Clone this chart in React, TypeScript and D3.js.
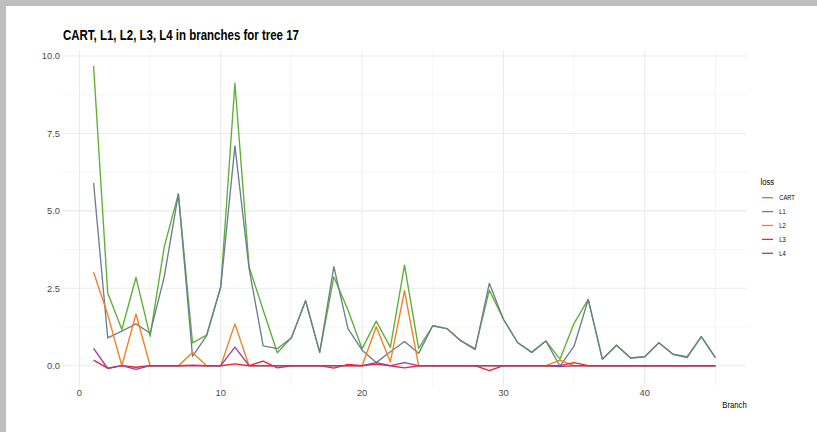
import React from "react";
import * as d3 from "d3";

const branches: number[] = d3.range(1, 46);

const cartValues: number[] = [
  9.68, 2.35, 1.17, 2.85, 0.95, 3.84, 5.55, 0.74, 0.99, 2.55,
  9.12, 3.2, 1.8, 0.42, 0.9, 2.1, 0.43, 2.87, 1.8, 0.55,
  1.44, 0.59, 3.25, 0.56, 1.29, 1.2, 0.8, 0.55, 2.44, 1.5,
  0.75, 0.43, 0.8, 0.21, 1.37, 2.14, 0.21, 0.67, 0.25, 0.29,
  0.74, 0.37, 0.29, 0.94, 0.26,
];
const l1Values: number[] = [
  5.9, 0.9, 1.12, 1.35, 1.05, 2.87, 5.55, 0.3, 0.97, 2.55,
  7.1, 3.15, 0.64, 0.55, 0.9, 2.1, 0.43, 3.2, 1.2, 0.5,
  0.1, 0.45, 0.78, 0.4, 1.29, 1.2, 0.8, 0.52, 2.66, 1.5,
  0.75, 0.43, 0.8, -0.01, 0.63, 2.14, 0.21, 0.65, 0.25, 0.29,
  0.74, 0.37, 0.26, 0.94, 0.26,
];
const l2Values: number[] = [
  3.02, 1.65, 0, 1.67, 0, 0, 0, 0.43, 0, 0,
  1.35, 0, 0, 0, 0, 0, 0, 0, 0, 0,
  1.26, 0.12, 2.42, 0, 0, 0, 0, 0, 0, 0,
  0, 0, 0, 0.18, 0, 0, 0, 0, 0, 0,
  0, 0, 0, 0, 0,
];
const l3Values: number[] = [
  0.18, -0.08, 0, -0.05, 0, 0, 0, 0, 0, 0,
  0.06, 0, 0.15, -0.07, 0, 0, 0, -0.08, 0.04, 0,
  0.05, 0, -0.07, 0, 0, 0, 0, 0, -0.16, 0,
  0, 0, 0, 0, 0.1, 0, 0, 0, 0, 0,
  0, 0, 0, 0, 0,
];
const l4Values: number[] = [
  0.56, -0.09, 0, -0.12, 0, 0, 0, 0.02, 0, 0,
  0.6, 0, 0, 0, 0, 0, 0, 0, 0, 0,
  0.1, 0, 0.1, 0, 0, 0, 0, 0, 0, 0,
  0, 0, 0, -0.03, 0, 0, 0, 0, 0, 0,
  0, 0, 0, 0, 0,
];

const seriesNames: string[] = ["CART", "L1", "L2", "L3", "L4"];
const seriesColors: string[] = ["#5cb032", "#6c7f8e", "#f57d1f", "#ee2331", "#9a3e9e"];
const xTicks: number[] = [0, 10, 20, 30, 40];
const xMinor: number[] = [5, 15, 25, 35, 45];
const yTicks: number[] = [0, 2.5, 5, 7.5, 10];
const yMinor: number[] = [1.25, 3.75, 6.25, 8.75];
const titleText = "CART, L1, L2, L3, L4 in branches for tree 17";
const xTitle = "Branch";
const legendTitle = "loss";

const W = 817;
const H = 432;
const panel = { left: 62.5, right: 746.5, top: 50.7, bottom: 385.9 };
const NARROW = 0.82;

export default function App() {
  const allSeries = [cartValues, l1Values, l2Values, l3Values, l4Values];
  const allVals = allSeries.flat();
  const yMin = d3.min(allVals) as number;
  const yMax = d3.max(allVals) as number;
  const yPad = (yMax - yMin) * 0.05;
  const xMinD = d3.min(branches) as number;
  const xMaxD = d3.max(branches) as number;
  const xPad = (xMaxD - xMinD) * 0.05;

  const x = d3.scaleLinear().domain([xMinD - xPad, xMaxD + xPad]).range([panel.left, panel.right]);
  const y = d3.scaleLinear().domain([yMin - yPad, yMax + yPad]).range([panel.bottom, panel.top]);

  const line = d3
    .line<[number, number]>()
    .x((d) => x(d[0]))
    .y((d) => y(d[1]));

  const font = "'Liberation Sans', Arial, Helvetica, sans-serif";

  return (
    <div style={{ position: "fixed", left: 0, top: 0, width: W, height: H }}>
      <svg width={W} height={H} style={{ display: "block" }}>
        <rect x={0} y={0} width={W} height={H} fill="#ffffff" />
        <rect x={0} y={0} width={W} height={6} fill="#bfbfbf" />
        <rect x={0} y={0} width={6} height={H} fill="#bfbfbf" />

        {/* minor grid */}
        {yMinor.map((v) => (
          <line key={"ym" + v} x1={panel.left} x2={panel.right} y1={y(v)} y2={y(v)} stroke="#f0f0f0" strokeWidth={0.7} />
        ))}
        {xMinor.map((v) => (
          <line key={"xm" + v} x1={x(v)} x2={x(v)} y1={panel.top} y2={panel.bottom} stroke="#f0f0f0" strokeWidth={0.7} />
        ))}
        {/* major grid */}
        {yTicks.map((v) => (
          <line key={"y" + v} x1={panel.left} x2={panel.right} y1={y(v)} y2={y(v)} stroke="#ebebeb" strokeWidth={1.1} />
        ))}
        {xTicks.map((v) => (
          <line key={"x" + v} x1={x(v)} x2={x(v)} y1={panel.top} y2={panel.bottom} stroke="#ebebeb" strokeWidth={1.1} />
        ))}

        {allSeries.map((vals, i) => (
          <path
            key={seriesNames[i]}
            d={line(branches.map((b, j) => [b, vals[j]] as [number, number])) || ""}
            fill="none"
            stroke={seriesColors[i]}
            strokeWidth={1.35}
            strokeLinejoin="round"
          />
        ))}

        {/* y tick labels */}
        {yTicks.map((v) => (
          <text key={"yl" + v} x={60} y={y(v)} dy="0.35em" textAnchor="end" fontFamily={font} fontSize={9.4} fill="#4d4d4d">
            {d3.format(".1f")(v)}
          </text>
        ))}
        {/* x tick labels */}
        {xTicks.map((v) => (
          <text key={"xl" + v} x={x(v)} y={393} dy="0.35em" textAnchor="middle" fontFamily={font} fontSize={9.4} fill="#4d4d4d">
            {v}
          </text>
        ))}

        <g transform={`translate(746.7, 405) scale(${NARROW}, 1)`}>
          <text x={0} y={0} dy="0.35em" textAnchor="end" fontFamily={font} fontSize={9.4} fill="#000">
            {xTitle}
          </text>
        </g>

        <g transform={`translate(63, 40) scale(${NARROW}, 1)`}>
          <text x={0} y={0} fontFamily={font} fontWeight="bold" fontSize={14} fill="#000">
            {titleText}
          </text>
        </g>

        {/* legend */}
        <g transform={`translate(760.5, 185) scale(${NARROW}, 1)`}>
          <text x={0} y={0} fontFamily={font} fontSize={9.4} fill="#000">
            {legendTitle}
          </text>
        </g>
        {seriesNames.map((name, i) => (
          <g key={"lg" + name} transform={`translate(0, ${197.7 + i * 13.9})`}>
            <line x1={762} x2={773} y1={0} y2={0} stroke={seriesColors[i]} strokeWidth={1.3} />
            <g transform={`translate(779.3, 0) scale(${NARROW}, 1)`}>
              <text x={0} y={0} dy="0.35em" fontFamily={font} fontSize={7} fill="#000">
                {name}
              </text>
            </g>
          </g>
        ))}
      </svg>
    </div>
  );
}
